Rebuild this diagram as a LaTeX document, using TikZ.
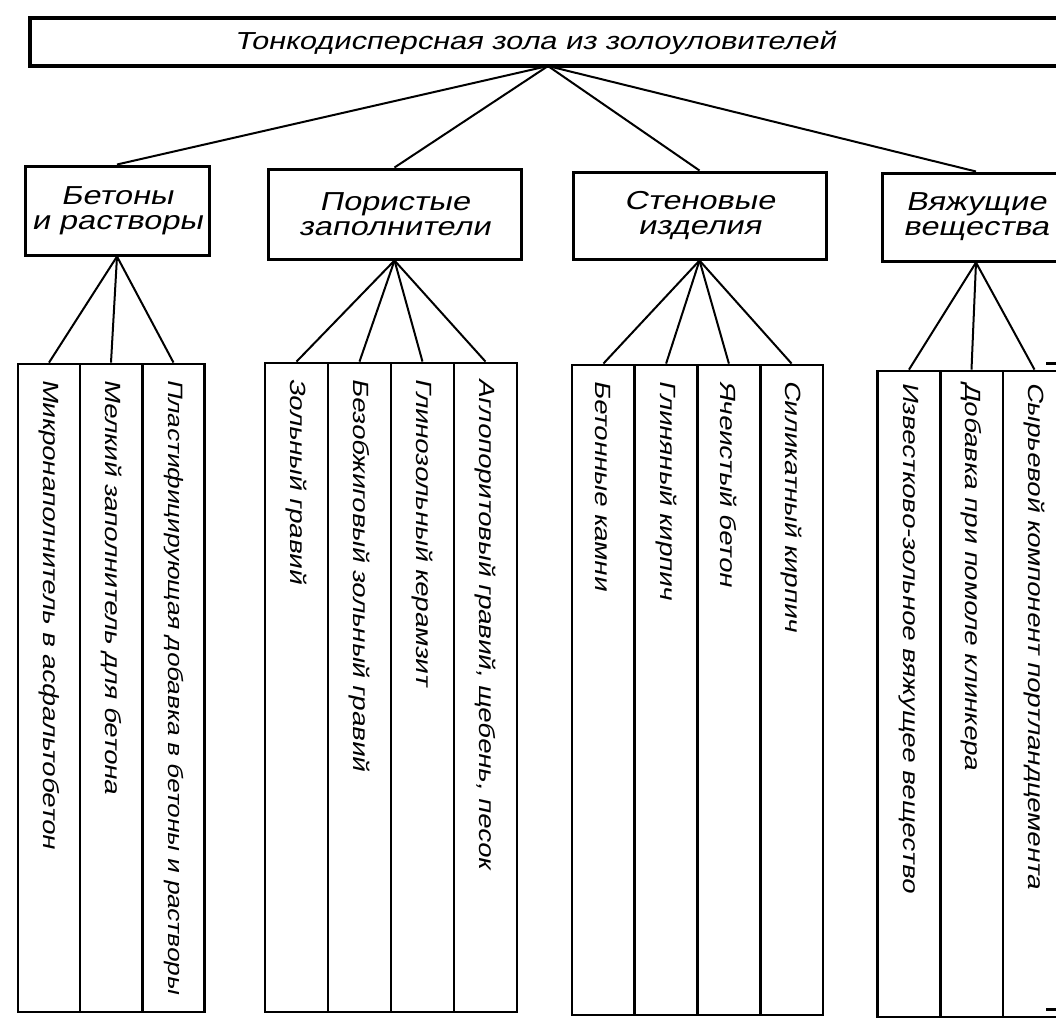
\documentclass[tikz,border=0pt]{standalone}
\usepackage{fontspec}
\newfontfamily\dfont{Liberation Sans}[FakeSlant=0.22,FakeStretch=1.25]
\begin{document}
\begin{tikzpicture}[x=0.5pt,y=-0.5pt,
  box/.style={draw,line width=1.5pt,inner sep=0pt},
  col/.style={draw,line width=1.4pt,inner sep=0pt},
  conn/.style={line width=1pt},
  vtext/.style={rotate=-90,anchor=west,inner sep=0pt,font=\dfont\fontsize{11}{13}\selectfont},
  vtextsmall/.style={vtext,font=\dfont\fontsize{10.4}{13}\selectfont},
  cattext/.style={align=center,font=\dfont\fontsize{13}{12.5}\selectfont},
  toptextstyle/.style={inner sep=0pt,font=\dfont\fontsize{12.3}{14}\selectfont}
]
\useasboundingbox (0,0) rectangle (1056,1019);
\clip (0,0) rectangle (1056,1019);

% top box
\node[box,line width=2pt,minimum width=520pt,minimum height=24pt] (top) at (550,42) {};
\node[toptextstyle] (toptext) at (535,43) {Тонкодисперсная зола из золоуловителей};
\coordinate (tapex) at (548,66);

% category boxes
\node[box,cattext,minimum width=92pt,minimum height=44.5pt] (b1) at (117,210.5) {Бетоны\\и растворы};
\node[box,cattext,minimum width=126.5pt,minimum height=45pt] (b2) at (394.5,214) {Пористые\\заполнители};
\node[box,cattext,minimum width=126.5pt,minimum height=43.5pt] (b3) at (699.5,215.5) {Стеновые\\изделия};
\node[box,cattext,minimum width=94pt,minimum height=44pt] (b4) at (976,217) {Вяжущие\\вещества};

\draw[conn] (tapex) -- (b1.north);
\draw[conn] (tapex) -- (b2.north);
\draw[conn] (tapex) -- (b3.north);
\draw[conn] (tapex) -- (b4.north);

% group 1
\foreach \n/\cx in {11/49,12/111,13/173.5}
  \node[col,minimum width=31pt,minimum height=324pt] (c\n) at (\cx,688) {};
% group 2
\foreach \n/\cx in {21/296.5,22/359.5,23/422.5,24/485.5}
  \node[col,minimum width=31.5pt,minimum height=324.5pt] (c\n) at (\cx,687.5) {};
% group 3
\foreach \n/\cx in {31/603.4,32/666.1,33/728.9,34/791.6}
  \node[col,minimum width=31.4pt,minimum height=325pt] (c\n) at (\cx,690) {};
% group 4
\foreach \n/\cx in {41/909,42/971.5,43/1034.5}
  \node[col,minimum width=31.5pt,minimum height=323pt] (c\n) at (\cx,694) {};

% connectors to columns
\foreach \n in {11,12,13} \draw[conn] (b1.south) -- (c\n.north);
\foreach \n in {21,22,23,24} \draw[conn] (b2.south) -- (c\n.north);
\foreach \n in {31,32,33,34} \draw[conn] (b3.south) -- (c\n.north);
\foreach \n in {41,42,43} \draw[conn] (b4.south) -- (c\n.north);

% column texts
\node[vtext] (t11) at ([yshift=-8pt]c11.north) {Микронаполнитель в асфальтобетон};
\node[vtext] (t12) at ([yshift=-8pt]c12.north) {Мелкий заполнитель для бетона};
\node[vtextsmall] (t13) at ([yshift=-8pt]c13.north) {Пластифицирующая добавка в бетоны и растворы};
\node[vtext] (t21) at ([yshift=-8pt]c21.north) {Зольный гравий};
\node[vtext] (t22) at ([yshift=-8pt]c22.north) {Безобжиговый зольный гравий};
\node[vtext] (t23) at ([yshift=-8pt]c23.north) {Глинозольный керамзит};
\node[vtext] (t24) at ([yshift=-8pt]c24.north) {Аглопоритовый гравий, щебень, песок};
\node[vtext] (t31) at ([yshift=-8pt]c31.north) {Бетонные камни};
\node[vtext] (t32) at ([yshift=-8pt]c32.north) {Глиняный кирпич};
\node[vtext] (t33) at ([yshift=-8pt]c33.north) {Ячеистый бетон};
\node[vtext] (t34) at ([yshift=-8pt]c34.north) {Силикатный кирпич};
\node[vtext] (t41) at ([yshift=-6pt]c41.north) {Известково-зольное вяжущее вещество};
\node[vtext] (t42) at ([yshift=-6pt]c42.north) {Добавка при помоле клинкера};
\node[vtext] (t43) at ([yshift=-6pt]c43.north) {Сырьевой компонент портландцемента};

% small marks at the right edge
\coordinate (m1a) at (1046,363); \coordinate (m1b) at (1056,363);
\coordinate (m2a) at (1046,1009); \coordinate (m2b) at (1056,1009);
\draw[line width=1.5pt] (m1a) -- (m1b);
\draw[line width=1.5pt] (m2a) -- (m2b);
\end{tikzpicture}
\end{document}
